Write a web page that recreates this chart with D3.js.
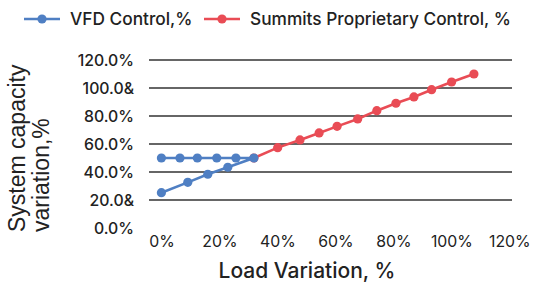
<!DOCTYPE html>
<meta charset="utf-8">
<script src="https://d3js.org/d3.v7.min.js"></script>
<style>
  body { margin: 0; background: #fff; }
  text { fill: #222; }
</style>
<div id="chart"></div>
<script>

// VFD control: flat 50% row, then back down the rising row
var vfdLoad     = [0, 6.4, 12.4, 19.1, 25.7, 31.9, 22.9, 16.0, 9.1, 0];
var vfdCapacity = [50, 50, 50, 50, 50, 50, 43.4, 38.4, 32.6, 25.2];

var summitLoad     = [31.9, 40.1, 47.8, 54.4, 60.6, 67.7, 74.3, 80.9, 87.1, 93.2, 100.1, 107.8];
var summitCapacity = [50, 57.4, 62.9, 67.9, 72.6, 77.9, 83.8, 89.1, 93.6, 98.8, 104.3, 110];

var yTicks = [0, 20, 40, 60, 80, 100, 120];
var yTickLabels = ["0.0%", "20.0&", "40.0%", "60.0%", "80.0%", "100.0&", "120.0%"];
var xTicks = [0, 20, 40, 60, 80, 100, 120];
var xTickLabels = ["0%", "20%", "40%", "60%", "80%", "100%", "120%"];

var seriesNames = ["VFD Control,%", "Summits Proprietary Control, %"];
var colors = ["#4f7fc3", "#e94c55"];

var width = 539, height = 293;

var svg = d3.select("#chart")
  .append("svg")
    .attr("width", width)
    .attr("height", height)
    .style("font-family", "Inter, 'Open Sans', sans-serif");

var x = d3.scaleLinear()
  .domain([0, 120])
  .range([161.4, 509.3]);

var y = d3.scaleLinear()
  .domain([0, 120])
  .range([228, 60]);

// gridlines (none at 0)
svg.append("g")
  .selectAll("line")
  .data(yTicks.filter(function(d){ return d > 0; }))
  .enter()
  .append("line")
    .attr("x1", 149)
    .attr("x2", 512)
    .attr("y1", function(d){ return y(d); })
    .attr("y2", function(d){ return y(d); })
    .attr("stroke", "#333")
    .attr("stroke-width", 1.4);

// Y axis labels
var yAxis = d3.axisLeft(y)
  .tickValues(yTicks)
  .tickSize(0)
  .tickPadding(0)
  .tickFormat(function(d, i){ return yTickLabels[i]; });
svg.append("g")
  .attr("transform", "translate(134,0)")
  .call(yAxis)
  .call(function(g){ g.select(".domain").remove(); })
  .selectAll("text")
    .attr("font-size", 15.8)
    .attr("font-weight", 500)
    .attr("font-family", "Inter, sans-serif")
    .attr("fill", "#222");

// X axis labels
var xAxis = d3.axisBottom(x)
  .tickValues(xTicks)
  .tickSize(0)
  .tickPadding(0)
  .tickFormat(function(d, i){ return xTickLabels[i]; });
svg.append("g")
  .attr("transform", "translate(0,236)")
  .call(xAxis)
  .call(function(g){ g.select(".domain").remove(); })
  .selectAll("text")
    .attr("font-size", 15.8)
    .attr("font-family", "Inter, sans-serif")
    .attr("fill", "#222");

// axis titles
svg.append("text")
  .attr("x", 307)
  .attr("y", 278)
  .attr("text-anchor", "middle")
  .attr("font-size", 21)
  .attr("font-weight", 500)
  .text("Load Variation, %");

var yTitle = svg.append("text")
  .attr("transform", "translate(25,232) rotate(-90)")
  .attr("font-family", "'Liberation Sans', Arial, sans-serif")
  .attr("font-size", 23);
yTitle.append("tspan").attr("x", 0).attr("y", 0).text("System capacity");
yTitle.append("tspan").attr("x", 0).attr("y", 24).text("variation,%");

// series
var line = d3.line()
  .x(function(d){ return x(d[0]); })
  .y(function(d){ return y(d[1]); });

var series = [
  d3.zip(summitLoad, summitCapacity),
  d3.zip(vfdLoad, vfdCapacity)
];
var seriesColors = [colors[1], colors[0]];

series.forEach(function(pts, i){
  var g = svg.append("g");
  g.append("path")
    .datum(pts)
    .attr("d", line)
    .attr("fill", "none")
    .attr("stroke", seriesColors[i])
    .attr("stroke-width", 2.6);
  g.selectAll("circle")
    .data(pts)
    .enter()
    .append("circle")
      .attr("cx", function(d){ return x(d[0]); })
      .attr("cy", function(d){ return y(d[1]); })
      .attr("r", 4.6)
      .attr("fill", seriesColors[i]);
});

// legend
var legendX = [24, 204];
var legend = svg.append("g");
seriesNames.forEach(function(name, i){
  var lg = legend.append("g").attr("transform", "translate(" + legendX[i] + ",19)");
  lg.append("line")
    .attr("x1", 0).attr("x2", 36)
    .attr("stroke", colors[i])
    .attr("stroke-width", 2.6);
  lg.append("circle")
    .attr("cx", 18).attr("r", 4.6)
    .attr("fill", colors[i]);
  lg.append("text")
    .attr("x", 46)
    .attr("y", 6)
    .attr("font-size", 17.3)
    .attr("font-weight", 500)
    .text(name);
});

</script>
